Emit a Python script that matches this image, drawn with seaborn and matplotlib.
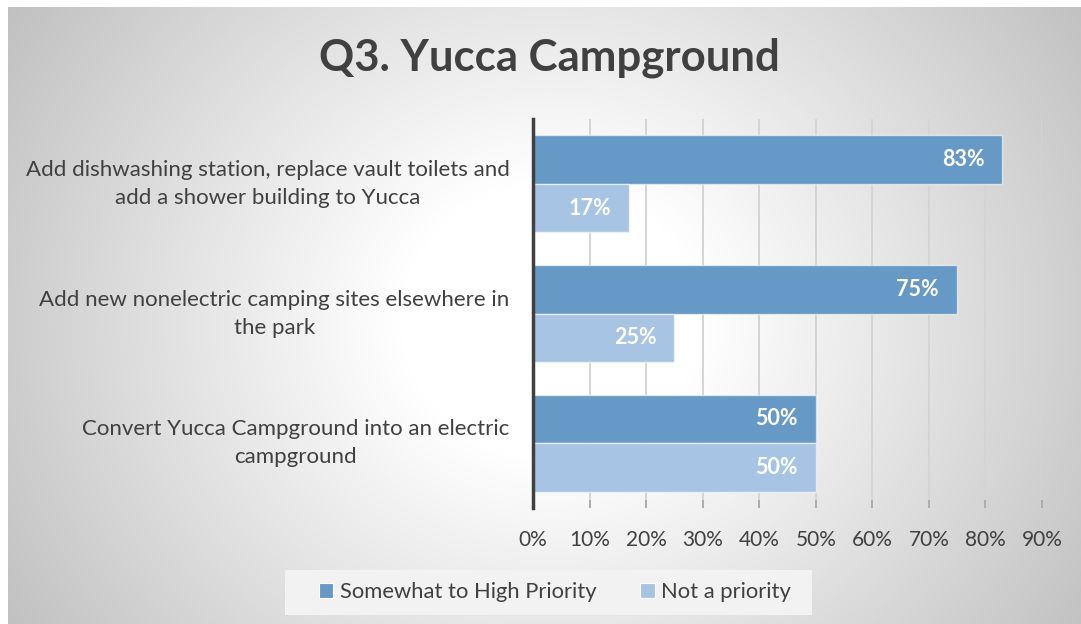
import numpy as np
import pandas as pd
import matplotlib
matplotlib.use("Agg")
import matplotlib.pyplot as plt
import seaborn as sns
from matplotlib.patches import Rectangle

# ---- data ----
categories = [
    "Add dishwashing station, replace vault toilets and\nadd a shower building to Yucca",
    "Add new nonelectric camping sites elsewhere in\nthe park",
    "Convert Yucca Campground into an electric\ncampground",
]
series_names = ["Somewhat to High Priority", "Not a priority"]
high_priority = [83, 75, 50]
not_priority = [17, 25, 50]
xtick_values = [0, 10, 20, 30, 40, 50, 60, 70, 80, 90]
title_text = "Q3. Yucca Campground"

df = pd.DataFrame({
    "category": categories * 2,
    "series": [series_names[0]] * 3 + [series_names[1]] * 3,
    "value": high_priority + not_priority,
})

sns.set_theme(style="white")
plt.rcParams["font.family"] = ["Lato", "DejaVu Sans"]

W, H = 1081, 624
fig = plt.figure(figsize=(W / 100, H / 100), dpi=100)
fig.patch.set_facecolor("white")

# background radial gradient (decoration)
bg = fig.add_axes([8 / W, 0, 1 - 8 / W, 1 - 7 / H])
yy, xx = np.mgrid[7:H, 8:W]
d = np.sqrt((xx - 550.0) ** 2 + ((yy - 320.0) * 1.1) ** 2)
v = 1 - 0.25 * np.clip((d - 150) / 500.0, 0, 1)
bg.imshow(np.dstack([v, v, v]), aspect="auto", interpolation="bilinear")
bg.set_axis_off()

# legend box (decoration)
fig.patches.append(Rectangle((285 / W, 1 - 615 / H), 527 / W, 45 / H,
                             transform=fig.transFigure, facecolor="#f2f2f2",
                             edgecolor="none", zorder=1))

ax = fig.add_axes([533 / W, 1 - 508 / H, (1042 - 533) / W, (508 - 119) / H])
ax.patch.set_alpha(0)

colors = {series_names[0]: "#6799c6", series_names[1]: "#a8c4e4"}
sns.barplot(data=df, y="category", x="value", hue="series", orient="h",
            palette=colors, width=0.75, ax=ax, saturation=1,
            edgecolor=(1, 1, 1, 0.6), linewidth=1.0, zorder=3)

ax.set_xlim(0, 90)
ax.set_ylim(2.5, -0.5)
ax.set_xticks(xtick_values)
ax.set_xticklabels([f"{t}%" for t in xtick_values])
ax.grid(axis="x", color="#d4d4d4", linewidth=1.4, zorder=0)
ax.set_axisbelow(True)
ax.set_xlabel("")
ax.set_ylabel("")

for s in ["top", "right", "bottom"]:
    ax.spines[s].set_visible(False)
ax.spines["left"].set_color("#404040")
ax.spines["left"].set_linewidth(2.5)
ax.spines["left"].set_zorder(5)

ax.tick_params(axis="x", direction="in", length=6, width=1.2, color="#a6a6a6",
               labelsize=15, labelcolor="#404040", pad=16, bottom=True)
ax.tick_params(axis="y", length=0, labelsize=16.0, labelcolor="#404040", pad=17)
for t in ax.get_yticklabels():
    t.set_multialignment("center")
    t.set_linespacing(1.5)
    t.set_verticalalignment("center")

# data labels
for cont in ax.containers:
    for p in cont.patches:
        w = p.get_width()
        yc = p.get_y() + p.get_height() / 2
        ax.annotate(f"{w:.0f}%", xy=(w, yc), xytext=(-13, 0),
                    textcoords="offset points", ha="right", va="center",
                    color="white", fontsize=15.5, fontweight="bold", zorder=6)

leg = ax.get_legend()
if leg is not None:
    leg.remove()
handles = [Rectangle((0, 0), 1, 1, facecolor=colors[n], edgecolor="white",
                     linewidth=0.8) for n in series_names]
fig.legend(handles, series_names, loc="center", bbox_to_anchor=(555 / W, 1 - 592 / H),
           ncol=2, frameon=False, fontsize=15.8, handlelength=0.65, handleheight=0.65,
           handletextpad=0.3, columnspacing=2.0, labelcolor="#404040")

fig.text(549 / W, 1 - 58 / H, title_text, ha="center", va="center",
         fontsize=31.5, fontweight="bold", color="#404040")

fig.savefig("out.png", dpi=100)
